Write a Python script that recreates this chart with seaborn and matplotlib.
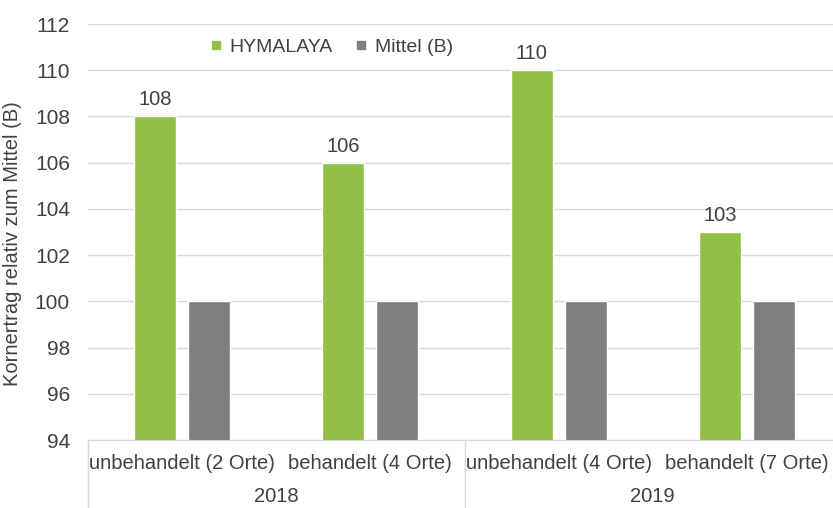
import pandas as pd
import matplotlib
matplotlib.use("Agg")
import matplotlib.pyplot as plt
import matplotlib.transforms as mtransforms
from matplotlib.lines import Line2D
import seaborn as sns

categories = ["unbehandelt (2 Orte)", "behandelt (4 Orte)",
              "unbehandelt (4 Orte)", "behandelt (7 Orte)"]
years = ["2018", "2019"]
hymalaya = [108, 106, 110, 103]
mittel = [100, 100, 100, 100]
series = ["HYMALAYA", "Mittel (B)"]
yticks = [94, 96, 98, 100, 102, 104, 106, 108, 110, 112]

sns.set_style("white")
plt.rcParams["font.family"] = ["Liberation Sans", "DejaVu Sans"]
txt = "#404040"
green = "#92c046"
grey = "#7f7f7f"

df = pd.DataFrame({
    "Kategorie": categories * 2,
    "Serie": [series[0]] * 4 + [series[1]] * 4,
    "Wert": hymalaya + mittel,
})

fig = plt.figure(figsize=(8.33, 5.08), dpi=100)
ax = fig.add_axes([88 / 833, 68 / 508, 753 / 833, 416 / 508])

sns.barplot(data=df, x="Kategorie", y="Wert", hue="Serie",
            palette=[green, grey], width=0.574, gap=0.22,
            saturation=1, ax=ax, legend=False)

ax.set_ylim(94, 112)
ax.set_xlim(-0.5, 3.5)
ax.set_yticks(yticks)
ax.yaxis.grid(True, color="#d9d9d9", linewidth=1)
ax.set_axisbelow(True)
for s in ["top", "right", "left"]:
    ax.spines[s].set_visible(False)
ax.spines["bottom"].set_color("#d9d9d9")
ax.tick_params(axis="y", length=0, pad=13, labelsize=15, labelcolor=txt)
ax.tick_params(axis="x", length=0, pad=10, labelsize=14.5, labelcolor=txt)
ax.set_xlabel("")
ax.set_ylabel("Kornertrag relativ zum Mittel (B)", fontsize=14.5, color=txt)
ax.yaxis.set_label_coords(-0.088, 0.471)

ax.bar_label(ax.containers[0], fmt="%d", padding=5, fontsize=14.5, color=txt)

# zweite Achsenebene: Jahre
trans = mtransforms.blended_transform_factory(ax.transData, ax.transAxes)
for xs in [-0.5, 1.5, 3.5]:
    ax.plot([xs, xs], [0, -0.17], transform=trans, color="#d9d9d9",
            linewidth=1, clip_on=False)
for i, y in enumerate(years):
    ax.text(0.5 + 2 * i, -0.137, y, transform=trans, ha="center", va="center",
            fontsize=14.5, color=txt)

handles = [Line2D([], [], marker="s", linestyle="", markersize=6, color=c)
           for c in [green, grey]]
ax.legend(handles, series, loc="center", bbox_to_anchor=(0.323, 0.945),
          ncol=2, frameon=False, fontsize=14, handlelength=0.7,
          handletextpad=0.35, columnspacing=1.1, labelcolor=txt)

fig.savefig("out.png", dpi=100)
